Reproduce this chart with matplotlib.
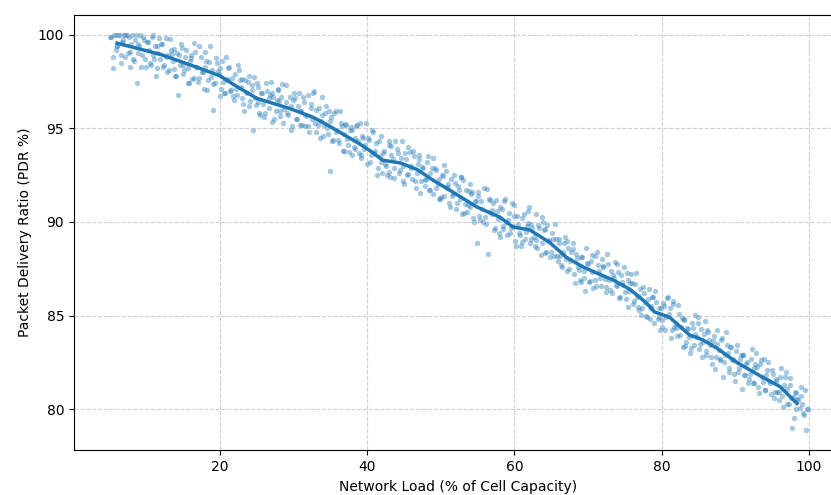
import matplotlib
matplotlib.use("Agg")
import matplotlib.pyplot as plt

# measured samples: network load (%) vs packet delivery ratio (%)
load_pct = [
    5.1, 5.4, 5.8, 5.9, 6.2, 6.5, 6.7, 6.9, 7.1, 7.3, 7.6, 7.8, 8.0, 8.3, 8.7, 8.9, 9.1, 9.4, 9.6, 9.9,
    10.2, 10.5, 10.7, 10.9, 11.1, 11.4, 11.6, 11.8, 12.1, 12.3, 12.6, 12.9, 13.0, 13.3, 13.6, 13.9, 14.1, 14.3, 14.5, 14.8,
    15.0, 15.3, 15.6, 15.8, 16.1, 16.4, 16.6, 16.9, 17.0, 17.2, 17.5, 17.8, 18.1, 18.4, 18.6, 18.9, 19.0, 19.3, 19.6, 19.8,
    20.1, 20.3, 20.6, 20.9, 21.1, 21.4, 21.6, 21.9, 22.0, 22.3, 22.6, 22.8, 23.1, 23.4, 23.7, 23.9, 24.0, 24.3, 24.5, 24.8,
    25.1, 25.3, 25.6, 25.9, 26.0, 26.3, 26.6, 26.8, 27.1, 27.4, 27.7, 27.9, 28.1, 28.3, 28.6, 28.9, 29.0, 29.3, 29.6, 29.8,
    30.2, 30.4, 30.7, 30.9, 31.1, 31.4, 31.6, 31.9, 32.0, 32.3, 32.5, 32.8, 33.1, 33.4, 33.7, 33.9, 34.0, 34.3, 34.6, 34.9,
    35.1, 35.4, 35.7, 35.9, 36.2, 36.5, 36.7, 36.9, 37.1, 37.4, 37.6, 37.9, 38.0, 38.3, 38.5, 38.8, 39.1, 39.3, 39.6, 39.9,
    40.1, 40.4, 40.6, 40.9, 41.2, 41.4, 41.7, 41.9, 42.0, 42.3, 42.6, 42.9, 43.1, 43.3, 43.6, 43.8, 44.0, 44.3, 44.6, 44.9,
    45.1, 45.4, 45.6, 45.9, 46.1, 46.4, 46.6, 46.9, 47.1, 47.3, 47.6, 47.9, 48.1, 48.4, 48.6, 48.9, 49.0, 49.3, 49.6, 49.9,
    50.1, 50.4, 50.7, 50.9, 51.1, 51.4, 51.6, 51.9, 52.0, 52.3, 52.6, 52.8, 53.1, 53.4, 53.7, 53.9, 54.1, 54.4, 54.7, 54.9,
    55.1, 55.3, 55.6, 55.9, 56.1, 56.4, 56.6, 56.9, 57.1, 57.3, 57.6, 57.9, 58.1, 58.4, 58.6, 58.9, 59.0, 59.3, 59.6, 59.9,
    60.1, 60.4, 60.6, 60.9, 61.1, 61.4, 61.7, 61.9, 62.1, 62.3, 62.6, 62.9, 63.1, 63.4, 63.7, 63.9, 64.1, 64.3, 64.6, 64.9,
    65.1, 65.4, 65.6, 65.9, 66.1, 66.4, 66.6, 66.9, 67.1, 67.3, 67.6, 67.9, 68.1, 68.4, 68.6, 68.9, 69.1, 69.4, 69.6, 69.9,
    70.1, 70.4, 70.6, 70.9, 71.1, 71.4, 71.6, 71.9, 72.1, 72.4, 72.6, 72.9, 73.1, 73.3, 73.6, 73.9, 74.1, 74.4, 74.6, 74.9,
    75.1, 75.4, 75.6, 75.9, 76.1, 76.4, 76.6, 76.9, 77.1, 77.3, 77.6, 77.9, 78.1, 78.4, 78.6, 78.9, 79.0, 79.3, 79.6, 79.9,
    80.1, 80.3, 80.6, 80.9, 81.1, 81.4, 81.6, 81.9, 82.1, 82.4, 82.6, 82.9, 83.1, 83.3, 83.6, 83.9, 84.1, 84.4, 84.6, 84.9,
    85.1, 85.4, 85.6, 85.9, 86.1, 86.3, 86.6, 86.9, 87.1, 87.4, 87.6, 87.9, 88.1, 88.4, 88.6, 88.9, 89.1, 89.3, 89.6, 89.9,
    90.1, 90.4, 90.6, 90.9, 91.1, 91.4, 91.6, 91.9, 92.1, 92.4, 92.6, 92.9, 93.1, 93.4, 93.6, 93.9, 94.1, 94.3, 94.6, 94.9,
    95.1, 95.4, 95.6, 95.9, 96.1, 96.4, 96.6, 96.9, 97.1, 97.4, 97.6, 97.7, 98.1, 98.3, 98.6, 98.9, 99.1, 99.4, 99.6, 99.9,
]
pdr_pct = [
    99.9, 98.2, 100.0, 99.2, 100.0, 98.9, 99.6, 100.0, 98.8, 100.0, 99.9, 99.1, 100.0, 98.6, 97.4, 99.5, 100.0, 98.9, 99.7, 98.3,
    99.6, 98.5, 99.9, 98.9, 99.4, 98.2, 99.0, 98.7, 99.5, 98.3, 99.8, 98.9, 98.1, 99.2, 98.6, 97.8, 99.0, 96.8, 98.4, 99.3,
    97.9, 98.8, 98.2, 97.4, 98.9, 97.7, 99.1, 98.3, 97.5, 99.4, 98.0, 97.1, 98.6, 97.6, 99.4, 98.1, 96.0, 97.4, 98.5, 97.9,
    97.1, 98.6, 96.9, 97.6, 98.2, 97.0, 97.7, 96.5, 97.9, 96.8, 98.1, 97.2, 96.3, 97.6, 96.9, 97.8, 96.2, 97.3, 94.9, 96.6,
    97.2, 95.8, 96.9, 96.3, 95.6, 97.4, 96.1, 96.8, 96.9, 95.5, 96.5, 97.1, 95.9, 96.7, 95.3, 96.4, 97.3, 95.7, 96.2, 95.1,
    96.6, 95.5, 96.9, 95.9, 95.2, 96.4, 95.7, 96.8, 95.1, 96.3, 95.5, 97.0, 94.8, 96.1, 95.4, 96.7, 94.6, 95.8, 95.0, 92.7,
    95.6, 94.4, 95.9, 94.9, 94.2, 95.3, 93.8, 94.7, 95.2, 94.1, 94.9, 93.6, 94.9, 93.9, 95.1, 94.3, 93.4, 94.6, 93.9, 95.3,
    94.5, 93.2, 94.9, 93.7, 94.2, 92.9, 93.5, 94.6, 92.6, 93.8, 93.0, 94.1, 92.4, 93.6, 92.9, 94.3, 93.9, 92.6, 93.4, 92.2,
    93.7, 92.5, 94.0, 92.9, 92.3, 93.5, 91.8, 93.1, 93.6, 92.2, 92.9, 91.9, 93.2, 91.7, 92.6, 93.4, 91.5, 92.8, 92.0, 91.2,
    92.5, 91.4, 92.7, 91.8, 91.0, 92.3, 91.5, 92.1, 90.7, 91.9, 91.2, 92.4, 90.5, 91.7, 90.9, 92.0, 91.5, 90.2, 91.1, 88.9,
    91.4, 90.1, 90.7, 91.8, 89.9, 88.3, 91.2, 90.4, 91.0, 89.7, 90.6, 89.4, 90.8, 89.6, 91.1, 90.0, 89.3, 90.5, 89.7, 90.9,
    89.0, 90.3, 89.4, 88.7, 90.2, 89.1, 89.8, 90.6, 88.9, 89.9, 89.2, 90.4, 88.6, 89.7, 88.9, 90.0, 89.6, 88.4, 89.0, 88.1,
    89.4, 88.2, 89.1, 87.9, 88.9, 87.7, 88.4, 89.2, 87.4, 88.6, 87.9, 88.9, 87.2, 88.3, 87.6, 86.9, 88.1, 87.0, 86.3, 87.8,
    86.8, 87.9, 87.3, 88.2, 86.6, 87.7, 87.0, 88.0, 87.6, 86.5, 88.3, 86.9, 87.4, 86.2, 87.0, 86.6, 87.3, 86.0, 86.8, 87.6,
    85.9, 86.9, 86.3, 87.2, 85.6, 86.7, 86.0, 85.3, 86.4, 85.4, 86.2, 85.0, 85.9, 84.8, 85.5, 86.0, 84.6, 85.7, 84.9, 85.4,
    84.4, 85.5, 84.9, 86.0, 85.4, 84.2, 85.8, 84.6, 83.9, 85.1, 84.4, 83.3, 84.8, 83.6, 84.3, 83.0, 84.6, 83.4, 84.0, 84.9,
    83.2, 84.3, 83.6, 84.7, 82.9, 84.1, 83.4, 82.4, 83.9, 82.8, 83.5, 82.6, 83.7, 81.7, 82.9, 83.4, 82.2, 83.3, 82.6, 81.9,
    83.1, 82.0, 82.7, 81.1, 82.9, 81.8, 82.5, 81.6, 82.7, 81.4, 82.2, 83.0, 81.2, 82.4, 81.7, 82.7, 81.0, 82.1, 81.5, 80.8,
    81.9, 80.9, 81.6, 80.5, 81.7, 80.7, 81.3, 82.0, 80.3, 81.3, 80.6, 79.0, 80.9, 80.0, 80.5, 81.2, 80.3, 79.7, 78.9, 80.0,
]

# second batch of samples
load_pct_2 = [
    5.25, 5.5, 5.65, 5.95, 6.05, 6.35, 6.6, 6.85, 7.05, 7.45, 7.7, 7.95, 8.15, 8.45, 8.6, 8.8, 9.05, 9.25, 9.5, 9.75,
    10.05, 10.35, 10.6, 10.85, 11.0, 11.25, 11.5, 11.75, 12.0, 12.45, 12.7, 12.85, 13.15, 13.45, 13.7, 13.8, 14.05, 14.4, 14.65, 14.9,
    15.15, 15.4, 15.7, 15.95, 16.0, 16.25, 16.5, 16.75, 17.1, 17.35, 17.65, 17.95, 18.0, 18.25, 18.5, 18.75, 19.1, 19.45, 19.7, 19.95,
    20.0, 20.45, 20.7, 20.8, 21.0, 21.25, 21.5, 21.75, 22.15, 22.4, 22.7, 22.95, 23.0, 23.25, 23.5, 23.8, 24.1, 24.4, 24.65, 24.9,
    25.0, 25.2, 25.45, 25.75, 26.15, 26.4, 26.7, 26.9, 27.0, 27.25, 27.55, 27.85, 28.0, 28.2, 28.45, 28.75, 29.1, 29.45, 29.7, 29.9,
    30.05, 30.3, 30.55, 30.8, 31.0, 31.25, 31.5, 31.8, 32.15, 32.4, 32.65, 32.95, 33.0, 33.25, 33.55, 33.8, 34.15, 34.45, 34.7, 34.8,
    35.0, 35.25, 35.55, 35.8, 36.05, 36.35, 36.6, 36.85, 37.0, 37.25, 37.5, 37.75, 38.15, 38.4, 38.65, 38.95, 39.0, 39.2, 39.45, 39.75,
    40.0, 40.25, 40.5, 40.75, 41.05, 41.3, 41.55, 41.85, 42.1, 42.45, 42.7, 42.95, 43.0, 43.2, 43.45, 43.7, 44.15, 44.4, 44.7, 44.85,
    45.0, 45.25, 45.5, 45.8, 46.0, 46.25, 46.5, 46.8, 47.0, 47.2, 47.45, 47.8, 48.0, 48.25, 48.5, 48.8, 49.15, 49.4, 49.7, 49.8,
    50.0, 50.25, 50.5, 50.8, 51.0, 51.25, 51.5, 51.75, 52.15, 52.45, 52.7, 52.9, 53.0, 53.25, 53.55, 53.8, 54.0, 54.25, 54.55, 54.8,
    55.0, 55.2, 55.45, 55.75, 56.0, 56.25, 56.5, 56.75, 57.0, 57.2, 57.45, 57.75, 58.0, 58.25, 58.5, 58.75, 59.15, 59.45, 59.7, 59.8,
    60.0, 60.25, 60.5, 60.75, 61.0, 61.25, 61.55, 61.8, 62.0, 62.2, 62.45, 62.75, 63.0, 63.25, 63.55, 63.8, 64.0, 64.2, 64.45, 64.75,
    65.0, 65.25, 65.5, 65.75, 66.0, 66.25, 66.5, 66.8, 67.0, 67.2, 67.45, 67.75, 68.0, 68.25, 68.5, 68.75, 69.0, 69.25, 69.5, 69.75,
    70.0, 70.25, 70.5, 70.75, 71.0, 71.25, 71.5, 71.75, 72.0, 72.25, 72.5, 72.75, 73.0, 73.45, 73.7, 73.8, 74.0, 74.25, 74.5, 74.75,
    75.0, 75.25, 75.5, 75.75, 76.0, 76.25, 76.5, 76.75, 77.0, 77.2, 77.45, 77.75, 78.0, 78.25, 78.5, 78.75, 79.15, 79.45, 79.7, 79.8,
    80.0, 80.2, 80.45, 80.75, 81.0, 81.25, 81.5, 81.75, 82.0, 82.25, 82.5, 82.75, 83.0, 83.2, 83.45, 83.75, 84.0, 84.25, 84.5, 84.75,
    85.0, 85.25, 85.5, 85.75, 86.0, 86.2, 86.45, 86.75, 87.0, 87.25, 87.5, 87.75, 88.0, 88.25, 88.5, 88.75, 89.0, 89.2, 89.45, 89.75,
    90.0, 90.25, 90.5, 90.75, 91.0, 91.25, 91.5, 91.75, 92.0, 92.25, 92.5, 92.75, 93.0, 93.2, 93.45, 93.75, 94.0, 94.2, 94.45, 94.75,
    95.0, 95.25, 95.5, 95.75, 96.0, 96.25, 96.5, 96.75, 97.0, 97.25, 97.5, 97.85, 98.0, 98.2, 98.45, 98.75, 99.0, 99.25, 99.5, 99.75,
]
pdr_pct_2 = [
    99.9, 98.8, 100.0, 99.4, 99.4, 100.0, 98.5, 99.7, 100.0, 99.0, 98.3, 99.5, 98.7, 99.7, 100.0, 99.0, 99.4, 98.3, 99.9, 98.7,
    99.6, 99.2, 98.4, 100.0, 98.7, 97.8, 99.4, 99.8, 99.5, 98.4, 98.8, 98.0, 99.75, 98.95, 98.15, 99.25, 97.8, 98.9, 99.5, 98.4,
    98.1, 99.2, 97.4, 98.6, 98.75, 97.65, 99.55, 98.25, 97.7, 98.8, 98.0, 99.1, 98.25, 97.05, 98.55, 97.75, 97.35, 98.75, 98.05, 96.75,
    98.2, 97.5, 96.9, 98.8, 97.65, 98.25, 97.05, 96.75, 97.1, 98.4, 97.6, 96.6, 97.65, 95.95, 96.95, 97.45, 96.45, 97.05, 97.75, 96.25,
    97.4, 96.4, 95.7, 96.9, 95.8, 97.0, 96.6, 97.5, 95.35, 96.65, 95.95, 97.05, 96.45, 95.65, 97.35, 96.05, 95.8, 96.7, 94.9, 96.5,
    96.9, 95.5, 96.2, 95.2, 95.95, 96.65, 95.15, 95.65, 94.8, 96.1, 96.9, 95.3, 96.0, 95.2, 94.5, 95.7, 95.2, 96.2, 94.7, 95.9,
    95.4, 94.3, 95.8, 94.8, 94.4, 95.9, 95.1, 93.8, 95.25, 94.45, 93.75, 95.05, 94.0, 94.5, 95.2, 93.7, 95.3, 93.6, 94.5, 94.1,
    93.1, 94.4, 93.6, 94.8, 93.8, 92.5, 94.3, 93.2, 93.7, 93.1, 92.5, 94.3, 92.65, 94.05, 93.35, 92.35, 93.7, 92.8, 94.3, 93.0,
    92.05, 93.35, 92.55, 93.75, 93.0, 93.8, 92.2, 92.6, 93.35, 91.55, 92.95, 92.25, 92.3, 93.5, 91.7, 92.9, 92.9, 91.8, 92.3, 91.2,
    91.35, 92.45, 93.05, 91.85, 92.0, 90.8, 91.4, 92.5, 91.0, 91.7, 92.4, 90.4, 92.25, 90.95, 90.55, 91.65, 90.8, 91.6, 90.0, 91.1,
    91.6, 90.3, 91.1, 90.0, 90.25, 91.75, 90.55, 91.15, 90.65, 89.55, 91.15, 90.15, 89.2, 90.7, 89.8, 91.2, 90.1, 89.4, 91.0, 89.8,
    90.3, 88.7, 89.9, 89.3, 88.95, 90.45, 89.45, 89.95, 90.8, 89.1, 89.7, 88.7, 89.05, 89.85, 88.25, 90.25, 89.55, 88.35, 89.85, 89.05,
    88.4, 89.1, 89.9, 88.2, 89.1, 88.2, 87.6, 88.9, 88.0, 89.0, 87.5, 88.4, 88.55, 86.75, 88.05, 87.45, 86.8, 88.1, 87.4, 88.6,
    87.75, 86.85, 88.25, 86.45, 86.9, 88.4, 87.4, 86.6, 87.65, 86.95, 86.25, 87.75, 86.35, 87.15, 87.85, 86.65, 87.75, 85.95, 87.15, 86.65,
    86.25, 87.25, 85.45, 86.75, 86.75, 85.75, 87.25, 85.45, 86.05, 85.05, 86.55, 85.65, 84.9, 86.4, 85.4, 86.0, 86.3, 84.8, 85.4, 84.2,
    84.75, 85.65, 84.25, 85.95, 85.1, 83.8, 85.6, 84.4, 84.35, 85.55, 83.95, 84.85, 84.75, 83.35, 84.35, 83.85, 83.25, 84.35, 85.05, 83.85,
    84.6, 83.5, 82.8, 84.0, 83.1, 84.2, 83.7, 82.8, 83.65, 82.15, 84.25, 83.15, 82.7, 83.8, 82.5, 84.1, 83.0, 82.0, 83.3, 82.7,
    81.5, 83.4, 82.2, 82.9, 82.9, 81.8, 82.4, 81.4, 81.9, 83.2, 81.4, 82.4, 82.25, 80.85, 82.65, 81.45, 81.0, 81.8, 82.5, 81.4,
    82.1, 80.6, 81.5, 80.9, 80.9, 82.2, 80.1, 81.7, 81.05, 80.25, 81.65, 80.65, 79.55, 80.85, 80.55, 80.05, 80.7, 79.8, 81.0, 80.0,
]

# rolling-average trend line
trend_load = [6.0, 11.9, 17.3, 20.0, 22.0, 25.0, 29.3, 32.6, 34.5, 39.0, 40.4, 42.1, 44.5, 46.8, 48.9,
              51.2, 54.9, 58.0, 59.8, 62.1, 64.8, 67.1, 69.3, 71.6, 73.4, 75.7, 78.0, 79.0, 81.1, 83.8,
              85.6, 87.5, 90.2, 93.3, 96.1, 98.4]
trend_pdr = [99.55, 98.95, 98.2, 97.8, 97.3, 96.6, 96.08, 95.6, 95.2, 94.16, 93.8, 93.3, 93.15, 92.8, 92.24,
             91.7, 90.8, 90.26, 89.73, 89.57, 88.9, 88.1, 87.6, 87.2, 86.9, 86.4, 85.65, 85.2, 84.9, 83.96,
             83.7, 83.26, 82.5, 81.8, 81.2, 80.3]

fig = plt.figure(figsize=(8.31, 4.95), dpi=100)
ax = fig.add_axes([0.089, 0.0903, 0.9254, 0.880])

ax.scatter(load_pct + load_pct_2, pdr_pct + pdr_pct_2, s=15, color="#1f77b4", alpha=0.4, linewidths=0)
ax.plot(trend_load, trend_pdr, color="#1f77b4", linewidth=2.5)

ax.set_xlim(0.15, 104.65)
ax.set_ylim(77.8, 101.07)
ax.set_xticks([20, 40, 60, 80, 100])
ax.set_yticks([80, 85, 90, 95, 100])
ax.grid(True, linestyle="--", alpha=0.6)
ax.set_xlabel("Network Load (% of Cell Capacity)")
ax.set_ylabel("Packet Delivery Ratio (PDR %)")

fig.savefig("out.png", dpi=100)
